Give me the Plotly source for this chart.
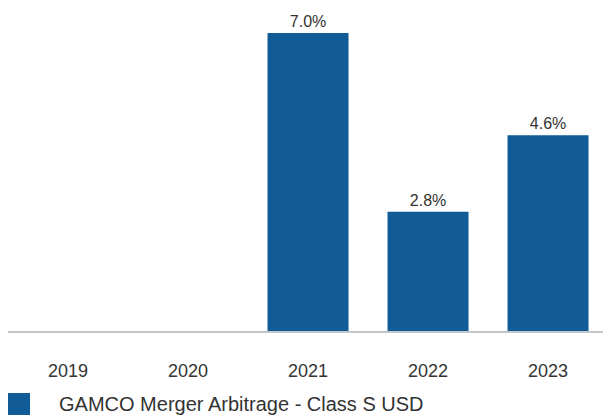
import plotly.graph_objects as go

years = ["2019", "2020", "2021", "2022", "2023"]
returns = [None, None, 7.0, 2.8, 4.6]
labels = ["" if v is None else f"{v:.1f}%" for v in returns]
series_name = "GAMCO Merger Arbitrage - Class S USD"

bar_color = "#115b96"
text_color = "#333333"
font_family = "Liberation Sans, Arial, sans-serif"

fig = go.Figure()
fig.add_trace(go.Bar(
    x=years, y=returns, text=labels, textposition="outside",
    textfont=dict(size=16, color=text_color, family=font_family),
    marker=dict(color=bar_color, line=dict(width=0)),
    cliponaxis=False, name=series_name, showlegend=False,
))

fig.update_layout(
    width=603, height=415,
    margin=dict(l=8, r=0, t=0, b=84),
    paper_bgcolor="white", plot_bgcolor="white",
    bargap=0.325,
    font=dict(family=font_family, color=text_color),
    xaxis=dict(
        type="category", range=[-0.5, 4.458],
        showline=True, linecolor="#c3c6c9", linewidth=2,
        showgrid=False, ticks="", ticklabelstandoff=22,
        tickfont=dict(size=18, color=text_color, family=font_family),
    ),
    yaxis=dict(range=[0, 7.775], visible=False, showgrid=False, zeroline=False),
    shapes=[dict(type="rect", xref="paper", yref="paper",
                 x0=0, x1=22 / 595, y0=-84 / 331, y1=-62 / 331,
                 fillcolor=bar_color, line=dict(width=0))],
    annotations=[dict(text=series_name, xref="paper", yref="paper",
                      x=49 / 595, y=-73 / 331, xanchor="left", yanchor="middle",
                      showarrow=False,
                      font=dict(size=20, color=text_color, family=font_family))],
)

fig.write_html("out.html")
